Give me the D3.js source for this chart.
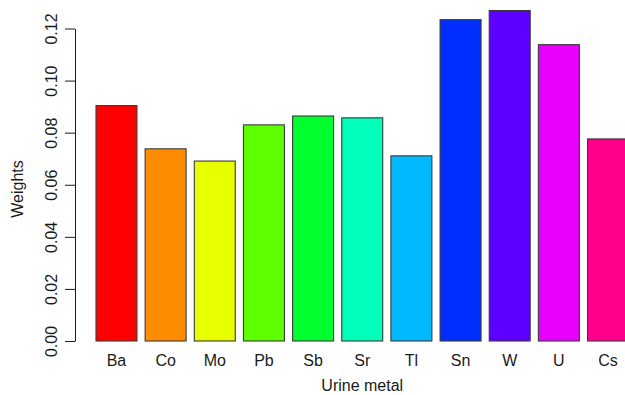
<!DOCTYPE html>
<html>
<head>
<meta charset="utf-8">
<script src="https://cdn.jsdelivr.net/npm/d3@7"></script>
<style>
  html, body { margin: 0; padding: 0; background: #fff; }
  svg { display: block; }
  text { font-family: "Liberation Sans", Arial, Helvetica, sans-serif; fill: #1a1a1a; }
</style>
</head>
<body>
<svg id="chart" width="625" height="395"></svg>
<script>
const categories = ["Ba", "Co", "Mo", "Pb", "Sb", "Sr", "Tl", "Sn", "W", "U", "Cs"];
const weights = [0.0904, 0.0738, 0.0691, 0.0830, 0.0864, 0.0857, 0.0711, 0.1234, 0.1269, 0.1138, 0.0776];
const colors = ["#FF0000", "#FF8B00", "#E8FF00", "#5DFF00", "#00FF2E", "#00FFB9",
                "#00B9FF", "#002EFF", "#5D00FF", "#E800FF", "#FF008B"];
const yTicks = [0.00, 0.02, 0.04, 0.06, 0.08, 0.10, 0.12];
const xTitle = "Urine metal";
const yTitle = "Weights";

const svg = d3.select("#chart");

// R barplot user coordinates: bar i spans [0.2 + 1.2 i, 1.2 + 1.2 i]
const x = d3.scaleLinear().domain([0, 13.2]).range([87.8, 628.5]);
const y = d3.scaleLinear().domain([0, 0.12]).range([341, 28.5]);

const bars = categories.map((c, i) => ({ c, v: weights[i], col: colors[i], l: 0.2 + 1.2 * i, r: 1.2 + 1.2 * i }));

svg.append("g").selectAll("rect")
  .data(bars)
  .enter().append("rect")
  .attr("x", d => x(d.l))
  .attr("y", d => y(d.v))
  .attr("width", d => x(d.r) - x(d.l))
  .attr("height", d => y(0) - y(d.v))
  .attr("fill", d => d.col)
  .attr("stroke", "#3a3a3a")
  .attr("stroke-width", 1.1);

// category labels
svg.append("g").selectAll("text")
  .data(bars)
  .enter().append("text")
  .attr("x", d => x((d.l + d.r) / 2))
  .attr("y", 366)
  .attr("text-anchor", "middle")
  .attr("font-size", 16)
  .text(d => d.c);

// y axis
const yAxis = d3.axisLeft(y)
  .tickValues(yTicks)
  .tickFormat(d3.format(".2f"))
  .tickSizeInner(10)
  .tickSizeOuter(0);

const gy = svg.append("g")
  .attr("transform", "translate(75,0)")
  .call(yAxis);
gy.select(".domain").attr("stroke", "#1a1a1a").attr("stroke-width", 1);
gy.selectAll(".tick line").attr("stroke", "#1a1a1a").attr("stroke-width", 1);
gy.selectAll(".tick text")
  .attr("x", null).attr("dy", null)
  .attr("transform", "translate(-18,0) rotate(-90)")
  .attr("text-anchor", "middle")
  .attr("font-size", 16)
  .attr("font-family", "Liberation Sans, Arial, sans-serif")
  .attr("fill", "#1a1a1a");

// axis titles
svg.append("text")
  .attr("x", x(6.7))
  .attr("y", 391)
  .attr("text-anchor", "middle")
  .attr("font-size", 16)
  .text(xTitle);

svg.append("text")
  .attr("transform", "translate(23,189) rotate(-90)")
  .attr("text-anchor", "middle")
  .attr("font-size", 16)
  .text(yTitle);
</script>
</body>
</html>
